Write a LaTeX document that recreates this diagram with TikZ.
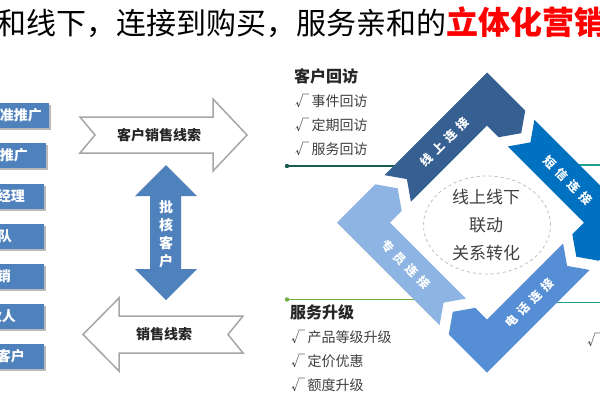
\documentclass[tikz,border=0pt]{standalone}
\usepackage{fontspec}
\setmainfont{Noto Sans CJK SC}
\definecolor{boxblue}{RGB}{79,129,189}
\definecolor{bandA}{RGB}{54,96,146}
\definecolor{bandB}{RGB}{0,112,192}
\definecolor{bandC}{RGB}{85,142,213}
\definecolor{bandD}{RGB}{142,180,227}
\definecolor{arrowgray}{RGB}{166,166,166}
\definecolor{darkteal}{RGB}{24,92,80}
\definecolor{lightteal}{RGB}{30,160,145}
\definecolor{leafgreen}{RGB}{112,173,71}
\definecolor{txtgray}{RGB}{64,64,64}
\newcommand{\fsz}[2]{\fontsize{#1}{#2}\selectfont}
\newcommand{\bandgap}{\hspace{5pt}}
\tikzset{
	boxtext/.style={anchor=east, inner sep=0pt, text=white, font=\bfseries\fsz{14}{14}},
	outarrow/.style={draw=arrowgray, line width=1.5pt, fill=white},
	arrowtext/.style={inner sep=0pt, text=black!85, font=\bfseries\fsz{14}{14}},
	bandtext/.style={inner sep=0pt, text=white, font=\bfseries\fsz{12}{12}},
	listhead/.style={anchor=west, inner sep=0pt, text=black!85, font=\bfseries\fsz{16}{16}},
	listitem/.style={anchor=west, inner sep=0pt, text=txtgray, font=\fsz{14}{14}}
}
\begin{document}
\begin{tikzpicture}[x=1pt,y=-1pt]
			\useasboundingbox (0,0) rectangle (600,400);
			\fill[white] (0,0) rectangle (600,400);
			% title
			\node[anchor=base west, inner sep=0pt, font=\fsz{30}{30}] (title) at (-4,34) {和线下，连接到购买，服务亲和的\textcolor{red}{\bfseries\fsz{32}{32}立体化营销}};
			% channel boxes
			\foreach \y/\r/\e/\t [count=\i] in {115/49/42/精准推广, 155/46/28/线下推广, 196/44/25/客户经理, 236/44/12/销售团队, 276/44/11/电话营销, 316/44/16/合伙人, 356/44/25/大客户} {
				\fill[gray!55] (-10,\y-10.5) rectangle (\r+2,\y+14.5);
				\fill[boxblue] (-10,\y-12.5) rectangle (\r,\y+12.5);
				\node[boxtext] (box\i) at (\e,\y) {\t};
			};
			% lead arrows
			\draw[outarrow] (80,117) -- (213,117) -- (213,99) -- (247,135) -- (213,171) -- (213,153) -- (80,153) -- (95,135) -- cycle;
			\node[arrowtext] (leadin) at (159,135) {客户销售线索};
			\draw[outarrow] (83,334.5) -- (119,298) -- (119,316) -- (243,316) -- (228,334.5) -- (243,353) -- (119,353) -- (119,371) -- cycle;
			\node[arrowtext] (leadout) at (164,334.5) {销售线索};
			\fill[boxblue] (166,165) -- (197,196) -- (181,196) -- (181,269) -- (197,269) -- (166,300) -- (135,269) -- (150,269) -- (150,196) -- (135,196) -- cycle;
			\node[inner sep=0pt, text=white, align=center, font=\bfseries\fsz{14}{18}] (check) at (166,234) {批\\核\\客\\户};
			% lists
			\node[listhead] (visit) at (294,76) {客户回访};
			\node[listitem] (visit1) at (295,101) {√\,事件回访};
			\node[listitem] (visit2) at (295,125) {√\,定期回访};
			\node[listitem] (visit3) at (295,149) {√\,服务回访};
			\node[listhead] (upgrade) at (290,312) {服务升级};
			\node[listitem] (upgrade1) at (291,337) {√\,产品等级升级};
			\node[listitem] (upgrade2) at (291,361) {√\,定价优惠};
			\node[listitem] (upgrade3) at (291,385) {√\,额度升级};
			\node[listitem] (rightcheck) at (587,340) {√};
			% guide lines
			\coordinate (dotA) at (287,166);
			\coordinate (endA) at (420,166);
			\coordinate (endB) at (560,165);
			\coordinate (edgeB) at (605,165);
			\coordinate (dotD) at (287,299.5);
			\coordinate (endD) at (430,299.5);
			\coordinate (endC) at (550,302.5);
			\coordinate (edgeC) at (605,302.5);
			\draw[darkteal, line width=1.2pt] (dotA) -- (endA);
			\fill[darkteal] (dotA) circle (2.2pt);
			\draw[lightteal, line width=1.2pt] (endB) -- (edgeB);
			\draw[leafgreen, line width=1.2pt] (dotD) -- (endD);
			\fill[leafgreen] (dotD) circle (2.2pt);
			\draw[lightteal, line width=1.2pt] (endC) -- (edgeC);
			% four bands round the centre
			\foreach \ang/\col in {0/bandA, -90/bandB, -180/bandC, -270/bandD} {
				\fill[\col, shift={(487,222.5)}, rotate=\ang] (-102.6,-47.4) -- (-80.1,-43.4) -- (-76.1,-20.9) -- (0,-97) -- (11.7,-85.3) -- (34.2,-89.3) -- (38.2,-111.8) -- (0,-150) -- cycle;
			};
			\node[bandtext, rotate=45] (online) at (444.6,141.9) {线\bandgap 上\bandgap 连\bandgap 接};
			\node[bandtext, rotate=-45] (sms) at (567.6,180.1) {短\bandgap 信\bandgap 连\bandgap 接};
			\node[bandtext, rotate=45] (phone) at (529.4,303.1) {电\bandgap 话\bandgap 连\bandgap 接};
			\node[bandtext, rotate=-45] (agent) at (406.4,264.9) {专\bandgap 员\bandgap 连\bandgap 接};
			\draw[gray!50, dashed, line width=0.8pt] (487,225) ellipse [x radius=63.5pt, y radius=49pt];
			\node[inner sep=0pt, align=center, text=txtgray, font=\fsz{17}{28}] (hub) at (486,225) {线上线下\\联动\\关系转化};
		\end{tikzpicture}
\end{document}
